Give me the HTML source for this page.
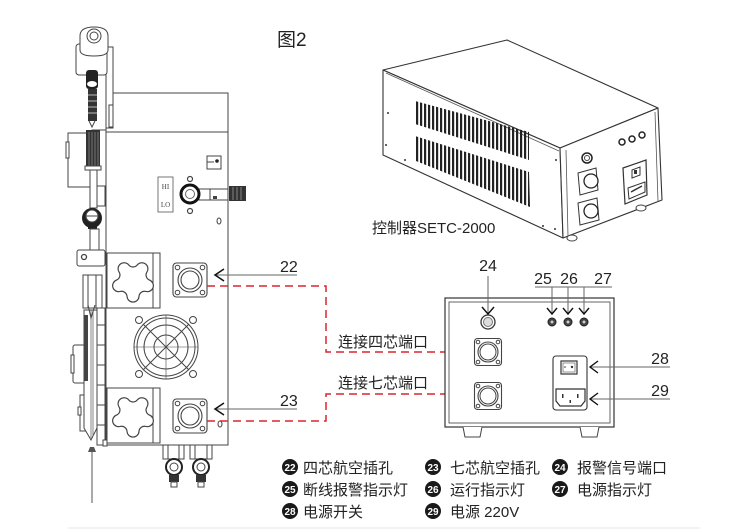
<!DOCTYPE html>
<html><head><meta charset="utf-8">
<style>
html,body{margin:0;padding:0;background:#fff;}
svg{display:block;}
.t{font-family:"Liberation Sans","Noto Sans CJK SC",sans-serif;fill:#222;}
.cn{font-family:"Liberation Sans","Noto Sans CJK SC",sans-serif;fill:#222;font-size:15px;}
</style></head><body>
<svg width="750" height="529" viewBox="0 0 750 529" xmlns="http://www.w3.org/2000/svg">
<defs>
<pattern id="vent" patternUnits="userSpaceOnUse" width="4" height="10"><rect x="0" y="0" width="2.2" height="10" fill="#222"/></pattern>
<g id="star"><path d="M-13.90,-8.93 A6 6 0 0 1 -4.20,-15.98 A5.47 5.47 0 0 0 4.20,-15.98 A6 6 0 0 1 13.90,-8.93 A5.47 5.47 0 0 0 16.49,-0.94 A6 6 0 0 1 12.79,10.46 A5.47 5.47 0 0 0 5.99,15.40 A6 6 0 0 1 -5.99,15.40 A5.47 5.47 0 0 0 -12.79,10.46 A6 6 0 0 1 -16.49,-0.94 A5.47 5.47 0 0 0 -13.90,-8.93 Z" fill="#fff" stroke="#444" stroke-width="1.2"/></g>
<g id="conn">
<rect x="-17" y="-17" width="34" height="34" rx="3.5" fill="#fff" stroke="#444" stroke-width="1.1"/>
<circle cx="-12.5" cy="-12.5" r="2.3" fill="none" stroke="#444"/>
<circle cx="12.5" cy="-12.5" r="2.3" fill="none" stroke="#444"/>
<circle cx="-12.5" cy="12.5" r="2.3" fill="none" stroke="#444"/>
<circle cx="12.5" cy="12.5" r="2.3" fill="none" stroke="#444"/>
<circle r="12" fill="none" stroke="#444" stroke-width="1.1"/>
<circle r="9" fill="none" stroke="#444" stroke-width="1.1"/>
</g>
<g id="conn2">
<rect x="-13.5" y="-13.5" width="27" height="27" rx="3" fill="#fff" stroke="#444" stroke-width="1.1"/>
<circle cx="-10" cy="-10" r="1.8" fill="none" stroke="#444"/>
<circle cx="10" cy="-10" r="1.8" fill="none" stroke="#444"/>
<circle cx="-10" cy="10" r="1.8" fill="none" stroke="#444"/>
<circle cx="10" cy="10" r="1.8" fill="none" stroke="#444"/>
<circle r="10" fill="none" stroke="#444" stroke-width="1.1"/>
<circle r="8" fill="none" stroke="#444" stroke-width="1"/>
</g>
</defs>

<!-- title -->
<text x="277" y="46" class="t" style="font-size:19px">图2</text>

<!-- ============ LEFT DEVICE ============ -->
<g stroke="#444" stroke-width="1" fill="#fff">
<rect x="106" y="93" width="122" height="39"/>
<rect x="106" y="132" width="122" height="313"/>
<rect x="106" y="47" width="7" height="81"/>
<rect x="109" y="105" width="4" height="22"/>
<rect x="76" y="44" width="31" height="31" rx="3"/>
<path d="M80,50 L80,36 Q80,27 94,27 Q108,27 108,36 L108,50 Q108,56 94,56 Q80,56 80,50 Z"/>
<circle cx="94" cy="36" r="7"/>
<circle cx="94" cy="36" r="4"/>
</g>
<rect x="86" y="70" width="12" height="19" rx="3" fill="#222"/>
<ellipse cx="92" cy="84" rx="5" ry="3" fill="#fff"/>
<rect x="88" y="89" width="9" height="32" fill="#333"/>
<g stroke="#bbb" stroke-width="1"><line x1="88" y1="95" x2="97" y2="95"/><line x1="88" y1="101" x2="97" y2="101"/><line x1="88" y1="107" x2="97" y2="107"/><line x1="88" y1="113" x2="97" y2="113"/></g>
<path d="M89,121 L92,127 L95,121" fill="none" stroke="#444"/>
<g stroke="#444" stroke-width="1" fill="#fff">
<rect x="68" y="133" width="24" height="54"/>
<rect x="66" y="142" width="3" height="16"/>
<rect x="92" y="130" width="14" height="56"/>
<rect x="93" y="186" width="12" height="20"/>
</g>
<rect x="86" y="130" width="14" height="38" fill="#333"/>
<g stroke="#888" stroke-width="0.8"><line x1="89" y1="132" x2="89" y2="166"/><line x1="92" y1="132" x2="92" y2="166"/><line x1="95" y1="132" x2="95" y2="166"/><line x1="98" y1="132" x2="98" y2="166"/></g>
<rect x="85" y="166" width="16" height="4" fill="#fff" stroke="#444"/>
<g stroke="#444" fill="#fff"><rect x="90" y="170" width="7" height="38"/></g>
<circle cx="92" cy="218" r="10" fill="#222"/>
<circle cx="92" cy="216" r="6" fill="#fff" stroke="#444"/>
<line x1="86" y1="216" x2="98" y2="216" stroke="#444"/>
<rect x="88" y="224" width="9" height="5" fill="#222"/>
<rect x="90" y="229" width="9" height="22" fill="#fff" stroke="#444"/>
<rect x="77" y="250" width="28" height="16" rx="2" fill="#fff" stroke="#444"/>
<circle cx="84" cy="257" r="2.5" fill="#fff" stroke="#444" stroke-width="1.3"/>
<g stroke="#444" stroke-width="1" fill="#fff">
<rect x="83" y="275" width="19" height="33"/>
<line x1="88" y1="275" x2="88" y2="308"/><line x1="96" y1="275" x2="96" y2="308"/>
<rect x="97" y="308" width="8" height="137"/>
<line x1="97" y1="325" x2="105" y2="325"/><line x1="97" y1="345" x2="105" y2="345"/><line x1="97" y1="365" x2="105" y2="365"/><line x1="97" y1="385" x2="105" y2="385"/><line x1="97" y1="405" x2="105" y2="405"/><line x1="97" y1="425" x2="105" y2="425"/>
<rect x="73" y="345" width="13" height="38" rx="2"/>
<rect x="71" y="355" width="3" height="18"/>
<rect x="80" y="395" width="8" height="36"/>
<rect x="78" y="407" width="3" height="8"/>
<path d="M84,310 L97,310 L97,428 L91,440 L84,428 Z"/>
</g>
<rect x="84" y="315" width="4" height="66" fill="#444"/>
<line x1="91" y1="310" x2="91" y2="438" stroke="#666" stroke-width="0.8"/>
<line x1="93" y1="310" x2="93" y2="436" stroke="#666" stroke-width="0.8"/>
<path d="M88,305 L91,318 L95,305" fill="none" stroke="#444"/>
<rect x="103" y="440" width="4" height="6" fill="#fff" stroke="#444"/>
<path d="M88,452 L96,452 L94,447 L90,447 Z" fill="#555"/>
<line x1="92" y1="452" x2="92" y2="503" stroke="#555" stroke-width="1"/>

<rect x="158" y="177" width="15" height="35" fill="#fff" stroke="#555" stroke-width="0.8"/>
<text x="165.5" y="189" text-anchor="middle" style="font-family:'Liberation Serif',serif;font-size:7px;fill:#444">HI</text>
<text x="165.5" y="207" text-anchor="middle" style="font-family:'Liberation Serif',serif;font-size:7px;fill:#444">LO</text>
<circle cx="190" cy="179" r="2.5" fill="#fff" stroke="#444" stroke-width="1.2"/>
<circle cx="190" cy="211" r="2.5" fill="#fff" stroke="#444" stroke-width="1.2"/>
<rect x="199" y="189" width="29" height="11" fill="#fff" stroke="#444"/>
<line x1="210" y1="189" x2="210" y2="200" stroke="#444"/>
<rect x="213" y="196" width="4" height="3" fill="#444"/>
<circle cx="190" cy="194" r="9" fill="#fff" stroke="#111" stroke-width="3"/>
<circle cx="190" cy="194" r="4.5" fill="#fff" stroke="#666"/>
<rect x="229" y="186" width="17" height="15" fill="#333"/>
<g stroke="#999" stroke-width="0.8"><line x1="233" y1="187" x2="233" y2="200"/><line x1="237" y1="187" x2="237" y2="200"/><line x1="241" y1="187" x2="241" y2="200"/></g>
<rect x="207" y="156" width="14" height="13" fill="#fff" stroke="#444"/>
<line x1="207" y1="162" x2="214" y2="162" stroke="#444"/>
<circle cx="217" cy="161" r="1.8" fill="#222"/>
<ellipse cx="219" cy="221" rx="2" ry="3" fill="#fff" stroke="#444"/>
<ellipse cx="220" cy="424" rx="2" ry="3" fill="#fff" stroke="#444"/>

<!-- star panels -->
<rect x="107" y="253" width="53" height="55" fill="#fff" stroke="#444"/>
<line x1="153" y1="253" x2="153" y2="308" stroke="#444"/>
<use href="#star" transform="translate(133,281)"/>
<rect x="107" y="388" width="53" height="55" fill="#fff" stroke="#444"/>
<line x1="153" y1="388" x2="153" y2="443" stroke="#444"/>
<use href="#star" transform="translate(133,416)"/>

<use href="#conn" transform="translate(190,280)"/>
<use href="#conn" transform="translate(190,416)"/>

<!-- fan -->
<g fill="none" stroke="#444" stroke-width="1">
<circle cx="166" cy="347" r="32"/>
<circle cx="166" cy="347" r="29"/>
<circle cx="166" cy="347" r="22"/>
<circle cx="166" cy="347" r="12"/>
<line x1="143" y1="324" x2="189" y2="370"/>
<line x1="189" y1="324" x2="143" y2="370"/>
<line x1="134" y1="347" x2="198" y2="347" stroke-width="0.6"/>
<line x1="166" y1="315" x2="166" y2="379" stroke-width="0.6"/>
<circle cx="139" cy="320" r="3.5"/><circle cx="193" cy="320" r="3.5"/>
<circle cx="139" cy="374" r="3.5"/><circle cx="193" cy="374" r="3.5"/>
</g>

<g stroke="#444" fill="#fff">
<rect x="163" y="445" width="21" height="14"/><line x1="168" y1="445" x2="168" y2="459"/><line x1="179" y1="445" x2="179" y2="459"/>
<rect x="190" y="445" width="22" height="14"/><line x1="195" y1="445" x2="195" y2="459"/><line x1="207" y1="445" x2="207" y2="459"/>
</g>
<circle cx="174" cy="467" r="8" fill="#fff" stroke="#222" stroke-width="2"/>
<circle cx="174" cy="467" r="4" fill="#fff" stroke="#444"/>
<circle cx="201" cy="467" r="8" fill="#fff" stroke="#222" stroke-width="2"/>
<circle cx="201" cy="467" r="4" fill="#fff" stroke="#444"/>
<rect x="169" y="475" width="10" height="7" fill="#333"/>
<rect x="171" y="482" width="6" height="5" fill="#fff" stroke="#444"/>
<rect x="196" y="475" width="10" height="7" fill="#333"/>
<rect x="198" y="482" width="6" height="5" fill="#fff" stroke="#444"/>

<text x="280" y="272" class="t" style="font-size:16px">22</text>
<line x1="215" y1="275" x2="297" y2="275" stroke="#666" stroke-width="1"/>
<path d="M224,269 L215,275 L224,281" fill="none" stroke="#111" stroke-width="1.5"/>
<text x="280" y="406" class="t" style="font-size:16px">23</text>
<line x1="215" y1="409" x2="297" y2="409" stroke="#666" stroke-width="1"/>
<path d="M224,403 L215,409 L224,415" fill="none" stroke="#111" stroke-width="1.5"/>

<g fill="none" stroke="#d9262f" stroke-width="1.5" stroke-dasharray="8,5">
<path d="M207,286 L326,286 L326,352 L475,352"/>
<path d="M207,421 L326,421 L326,394 L475,394"/>
</g>
<text x="338" y="347" class="cn">连接四芯端口</text>
<text x="338" y="388" class="cn">连接七芯端口</text>

<!-- ============ CONTROLLER 3D ============ -->
<g stroke="#333" stroke-width="1.1" fill="#fff" stroke-linejoin="round">
<polygon points="383,70 507,40 658,108 560,148"/>
<polygon points="383,70 560,148 563,238 383,155"/>
<polygon points="560,148 658,108 662,200 563,238"/>
</g>
<g stroke="#555" stroke-width="0.8" fill="none">
<line x1="386" y1="73" x2="559" y2="151"/>
<line x1="566" y1="150" x2="568" y2="236"/>
<line x1="655" y1="112" x2="658" y2="201"/>
</g>
<polygon points="415,101 529,132 529,160 415,124" fill="url(#vent)"/>
<polygon points="415,136 529,172 530,207 416,161" fill="url(#vent)"/>
<g fill="#333"><circle cx="388" cy="113" r="1"/><circle cx="405" cy="160" r="1"/><circle cx="555" cy="229" r="1"/><circle cx="543" cy="226" r="1"/><circle cx="556" cy="160" r="1"/><circle cx="386" cy="145" r="1"/></g>
<ellipse cx="572" cy="238" rx="5" ry="3" fill="#fff" stroke="#444"/>
<ellipse cx="641" cy="208" rx="5" ry="3" fill="#fff" stroke="#444"/>
<circle cx="587" cy="158" r="5" fill="#fff" stroke="#222" stroke-width="1.5"/>
<circle cx="587" cy="158" r="2.5" fill="none" stroke="#444"/>
<path d="M578,173 L596,168 L598,190 L580,195 Z" fill="#fff" stroke="#333"/>
<circle cx="591" cy="181" r="7" fill="#fff" stroke="#222" stroke-width="1.3"/>
<path d="M578,203 L597,198 L599,220 L580,225 Z" fill="#fff" stroke="#333"/>
<circle cx="591" cy="211" r="7" fill="#fff" stroke="#222" stroke-width="1.3"/>
<circle cx="622" cy="142" r="3" fill="#fff" stroke="#222" stroke-width="1.5"/>
<circle cx="632" cy="139" r="3" fill="#fff" stroke="#222" stroke-width="1.5"/>
<circle cx="642" cy="135" r="3" fill="#fff" stroke="#222" stroke-width="1.5"/>
<path d="M623,168 L646,160 L647,195 L625,204 Z" fill="#fff" stroke="#333" stroke-width="1.2"/>
<path d="M632,170 L640,167 L640,175 L632,178 Z" fill="#fff" stroke="#333"/>
<rect x="634" y="170" width="3" height="4" fill="#333"/>
<path d="M628,188 L645,182 L645,192 L629,199 Z" fill="#fff" stroke="#333"/>
<path d="M631,192 L642,186" stroke="#333" stroke-width="1.5"/>
<text x="372" y="233" class="cn">控制器SETC-2000</text>

<!-- ============ FRONT VIEW BOX ============ -->
<rect x="445" y="298" width="169" height="129" fill="#fff" stroke="#333" stroke-width="1.2"/>
<rect x="449" y="302" width="161" height="121" fill="none" stroke="#555" stroke-width="0.9"/>
<path d="M463,427 L465,437 L480,437 L482,427" fill="#fff" stroke="#444"/>
<path d="M580,427 L582,437 L597,437 L599,427" fill="#fff" stroke="#444"/>
<circle cx="488" cy="322" r="7" fill="#fff" stroke="#333" stroke-width="1.3"/>
<circle cx="488" cy="322" r="4.5" fill="#ddd" stroke="#777"/>
<text x="488" y="271" text-anchor="middle" class="t" style="font-size:16px">24</text>
<line x1="488" y1="276" x2="488" y2="313" stroke="#666"/>
<path d="M482,307 L488,314 L494,307" fill="none" stroke="#111" stroke-width="1.4"/>
<text x="543" y="284" text-anchor="middle" class="t" style="font-size:16px">25</text>
<text x="569" y="284" text-anchor="middle" class="t" style="font-size:16px">26</text>
<text x="603" y="284" text-anchor="middle" class="t" style="font-size:16px">27</text>
<line x1="535" y1="287" x2="612" y2="287" stroke="#666"/>
<g stroke="#666"><line x1="552" y1="287" x2="552" y2="313"/><line x1="568" y1="287" x2="568" y2="313"/><line x1="584" y1="287" x2="584" y2="313"/></g>
<g fill="none" stroke="#111" stroke-width="1.4">
<path d="M547,308 L552,314 L557,308"/><path d="M563,308 L568,314 L573,308"/><path d="M579,308 L584,314 L589,308"/>
</g>
<g fill="#444" stroke="#222"><circle cx="552" cy="322" r="4"/><circle cx="568" cy="322" r="4"/><circle cx="584" cy="322" r="4"/></g>
<g fill="#ccc"><circle cx="552" cy="322" r="1.5"/><circle cx="568" cy="322" r="1.5"/><circle cx="584" cy="322" r="1.5"/></g>
<use href="#conn2" transform="translate(488,352)"/>
<use href="#conn2" transform="translate(488,396)"/>
<rect x="553" y="356" width="34" height="54" rx="3" fill="#fff" stroke="#333" stroke-width="1.1"/>
<rect x="561" y="361" width="16" height="13" fill="#fff" stroke="#333" stroke-width="1.2"/>
<rect x="563" y="363" width="12" height="9" fill="none" stroke="#666" stroke-width="0.7"/>
<circle cx="565" cy="367" r="0.8" fill="#333"/><circle cx="572" cy="367" r="1.2" fill="#333"/>
<path d="M556,389 L585,389 L585,401 L581,406 L560,406 L556,401 Z" fill="#fff" stroke="#333" stroke-width="1.2"/>
<rect x="562" y="394" width="1.5" height="4" fill="#333"/><rect x="577" y="394" width="1.5" height="4" fill="#333"/><rect x="569.5" y="400" width="1.5" height="3" fill="#333"/>
<text x="660" y="364" text-anchor="middle" class="t" style="font-size:16px">28</text>
<line x1="590" y1="367" x2="670" y2="367" stroke="#666"/>
<path d="M598,361 L590,367 L598,373" fill="none" stroke="#111" stroke-width="1.4"/>
<text x="660" y="396" text-anchor="middle" class="t" style="font-size:16px">29</text>
<line x1="590" y1="399" x2="670" y2="399" stroke="#666"/>
<path d="M598,393 L590,399 L598,405" fill="none" stroke="#111" stroke-width="1.4"/>

<!-- ============ LEGEND ============ -->
<g font-family="Liberation Sans, sans-serif" font-size="10" font-weight="bold" fill="#fff" text-anchor="middle">
<circle cx="290" cy="467" r="8" fill="#1a1a1a"/><text x="290" y="471">22</text>
<circle cx="433" cy="467" r="8" fill="#1a1a1a"/><text x="433" y="471">23</text>
<circle cx="560" cy="467" r="8" fill="#1a1a1a"/><text x="560" y="471">24</text>
<circle cx="290" cy="489" r="8" fill="#1a1a1a"/><text x="290" y="493">25</text>
<circle cx="433" cy="489" r="8" fill="#1a1a1a"/><text x="433" y="493">26</text>
<circle cx="560" cy="489" r="8" fill="#1a1a1a"/><text x="560" y="493">27</text>
<circle cx="290" cy="511" r="8" fill="#1a1a1a"/><text x="290" y="515">28</text>
<circle cx="433" cy="511" r="8" fill="#1a1a1a"/><text x="433" y="515">29</text>
</g>
<text x="303" y="473" class="cn">四芯航空插孔</text>
<text x="450" y="473" class="cn">七芯航空插孔</text>
<text x="577" y="473" class="cn">报警信号端口</text>
<text x="303" y="495" class="cn">断线报警指示灯</text>
<text x="450" y="495" class="cn">运行指示灯</text>
<text x="577" y="495" class="cn">电源指示灯</text>
<text x="303" y="517" class="cn">电源开关</text>
<text x="450" y="517" class="cn">电源 220V</text>

<line x1="68" y1="528" x2="700" y2="528" stroke="#e6e6e6" stroke-width="1"/>
</svg>
</body></html>
